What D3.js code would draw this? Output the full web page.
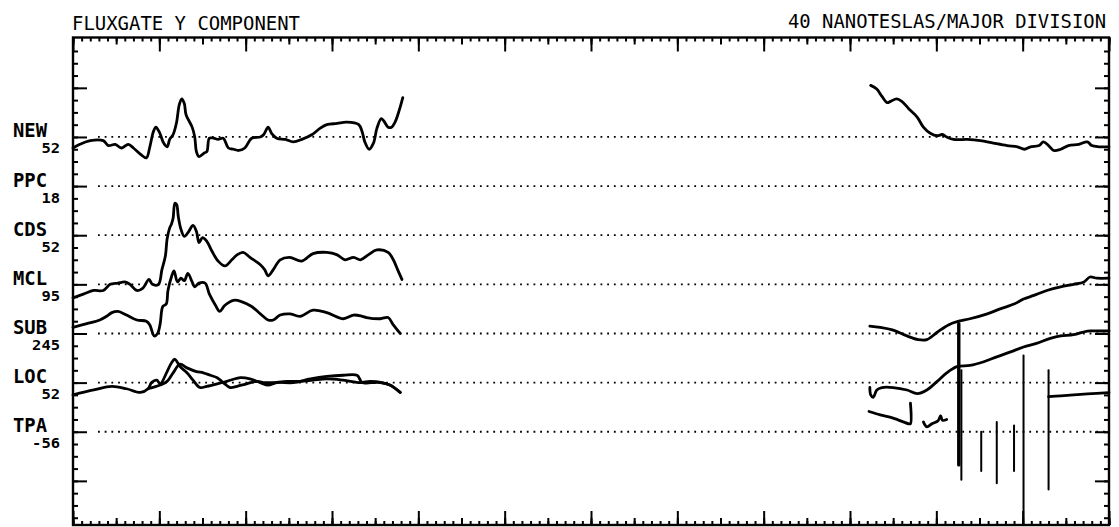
<!DOCTYPE html>
<html><head><meta charset="utf-8">
<script src="https://cdn.jsdelivr.net/npm/d3@7"></script>
<style>body{margin:0;background:#fff}svg{display:block}</style>
</head><body>
<svg id="c" width="1119" height="527"></svg>
<script>
// ---------------- data ----------------
const titleLeft = "FLUXGATE Y COMPONENT";
const titleRight = "40 NANOTESLAS/MAJOR DIVISION";
const stations = ["NEW", "PPC", "CDS", "MCL", "SUB", "LOC", "TPA"];
const stationBase = ["52", "18", "52", "95", "245", "52", "-56"];
// baseline level of each station trace (nT on the plot scale, 40 nT per division)
const stationLevel = [320, 280, 240, 200, 160, 120, 80];

// traces: [hour, nT deviation from station baseline]
const newLeft = [[0.00,-9],[0.08,-6],[0.20,-3],[0.35,-3],[0.41,-7],[0.49,-6],[0.56,-9],[0.64,-6],[0.70,-9],[0.78,-14],[0.85,-17],[0.89,-8],[0.93,4],[0.96,8],[1.00,4],[1.05,-5],[1.09,-8],[1.12,-2],[1.16,2],[1.20,12],[1.23,26],[1.26,31],[1.29,27],[1.31,18],[1.38,8],[1.41,0],[1.43,-12],[1.46,-16],[1.52,-13],[1.55,-12],[1.58,-1],[1.63,-1],[1.68,-2],[1.74,-1],[1.80,-9],[1.86,-10],[1.92,-11],[1.99,-9],[2.07,-1],[2.17,0],[2.21,2],[2.26,8],[2.30,3],[2.36,-1],[2.46,-2],[2.55,-4],[2.65,-2],[2.77,2],[2.86,7],[2.94,10],[3.06,11],[3.17,12],[3.31,10],[3.35,4],[3.38,-4],[3.43,-10],[3.48,-5],[3.52,7],[3.57,15],[3.60,13],[3.65,8],[3.69,8],[3.73,12],[3.78,22],[3.82,32]];
const newRight = [[9.24,42],[9.31,39],[9.37,33],[9.43,28],[9.47,29],[9.54,31],[9.60,29],[9.68,23],[9.78,16],[9.85,8],[9.93,3],[10.01,1],[10.07,2],[10.12,0],[10.20,-2],[10.36,-2],[10.51,-3],[10.66,-5],[10.82,-7],[10.94,-8],[11.02,-10],[11.09,-8],[11.19,-7],[11.24,-4],[11.30,-7],[11.36,-11],[11.44,-10],[11.53,-7],[11.65,-6],[11.75,-4],[11.80,-7],[11.88,-8],[12.00,-8]];
const mclLeft = [[0.00,-11],[0.12,-8],[0.24,-5],[0.35,-5],[0.43,0],[0.52,1],[0.60,2],[0.66,0],[0.74,-5],[0.81,-3],[0.88,4],[0.92,0],[0.99,0],[1.03,12],[1.07,23],[1.09,37],[1.12,46],[1.14,49],[1.16,54],[1.18,66],[1.20,65],[1.22,55],[1.25,45],[1.29,39],[1.34,43],[1.39,48],[1.43,43],[1.46,34],[1.50,38],[1.55,35],[1.61,27],[1.68,19],[1.76,15],[1.84,20],[1.90,24],[1.97,26],[2.05,22],[2.17,16],[2.22,12],[2.26,7],[2.32,12],[2.40,20],[2.51,22],[2.65,19],[2.78,25],[2.94,26],[3.06,24],[3.15,20],[3.25,22],[3.33,20],[3.42,24],[3.52,28],[3.65,26],[3.71,20],[3.76,12],[3.81,4]];
const subLeft = [[0.00,5],[0.16,8],[0.31,11],[0.39,14],[0.45,17],[0.52,18],[0.62,15],[0.74,11],[0.85,10],[0.89,7],[0.94,-2],[0.98,0],[1.01,8],[1.04,22],[1.08,24],[1.10,35],[1.14,46],[1.17,51],[1.21,42],[1.25,45],[1.29,43],[1.33,49],[1.38,42],[1.41,38],[1.46,41],[1.53,41],[1.58,32],[1.65,23],[1.70,18],[1.76,23],[1.86,27],[1.95,26],[2.07,22],[2.17,16],[2.26,11],[2.32,11],[2.40,15],[2.51,16],[2.63,14],[2.78,19],[2.94,17],[3.13,12],[3.25,15],[3.35,14],[3.40,13],[3.56,12],[3.65,13],[3.71,7],[3.79,0]];
const subRight = [[9.23,6],[9.35,5],[9.49,3],[9.66,-2],[9.79,-5],[9.89,-5],[10.01,1],[10.14,7],[10.26,10],[10.39,12],[10.59,16],[10.74,20],[10.90,24],[11.01,28],[11.13,31],[11.28,35],[11.44,38],[11.59,40],[11.71,42],[11.78,46],[11.86,45],[12.00,45]];
const locLeftA = [[0.00,-10],[0.24,-6],[0.45,-3],[0.62,-5],[0.78,-8],[0.87,-5],[0.91,0],[0.97,2],[1.01,-1],[1.09,9],[1.14,16],[1.18,19],[1.24,13],[1.32,8],[1.39,2],[1.47,-4],[1.55,-3],[1.67,-1],[1.78,1],[1.94,4],[2.05,3],[2.17,0],[2.26,-2],[2.36,0],[2.55,0],[2.75,3],[2.94,5],[3.13,6],[3.29,6],[3.35,0],[3.46,0],[3.56,0],[3.67,-2],[3.79,-8]];
const locLeftB = [[0.87,-5],[1.01,-2],[1.09,1],[1.16,8],[1.24,15],[1.32,12],[1.43,9],[1.51,8],[1.59,6],[1.67,4],[1.74,0],[1.82,-4],[1.90,-3],[2.01,-1],[2.13,1],[2.22,0],[2.30,0],[2.48,1],[2.63,1],[2.78,2],[2.94,3],[3.13,2],[3.33,0],[3.44,1],[3.58,0],[3.67,-2],[3.79,-8]];
const locRight = [[9.23,-4],[9.24,-10],[9.27,-12],[9.31,-6],[9.37,-4],[9.50,-4],[9.66,-6],[9.78,-9],[9.89,-6],[10.01,1],[10.12,8],[10.24,13],[10.39,14],[10.55,17],[10.70,21],[10.86,25],[11.01,29],[11.16,32],[11.32,36],[11.44,38],[11.59,39],[11.75,42],[11.86,42],[12.00,42]];
const tpaRight1 = [[9.22,16.5],[9.35,13.8],[9.50,11.1],[9.68,6.5],[9.70,6.5],[9.70,23.3]];
const tpaRight2 = [[9.85,8],[9.89,4],[9.95,6.5],[10.02,9],[10.05,13],[10.07,9.3],[10.12,10]];
const tpaRight3 = [[11.30,28.6],[11.44,29.2],[11.59,30],[11.75,30.8],[12.00,31.9]];
// spikes: [hour, top nT, bottom nT] relative to TPA baseline
const spikes = [[10.26,88,-27],[10.29,50,-39],[10.52,0,-32],[10.70,8,-42],[10.90,5,-32],[11.01,62,-76],[11.30,50,-47]];

// ---------------- layout ----------------
const L = 73, R = 1109, T = 37.5, B = 525;
const svg = d3.select("#c");
const x = d3.scaleLinear().domain([0, 12]).range([L, R]);
const y = d3.scaleLinear().domain([400, 0]).range([38.7, 530]);
const font = "'DejaVu Sans Mono', 'Liberation Mono', monospace";

svg.append("rect").attr("width", 1119).attr("height", 527).attr("fill", "#fff");

// titles
svg.append("text").attr("x", 72).attr("y", 30).text(titleLeft)
  .attr("font-family", font).attr("font-size", 19).attr("textLength", 228)
  .attr("lengthAdjust", "spacingAndGlyphs").attr("fill", "#000");
svg.append("text").attr("x", 788).attr("y", 28).text(titleRight)
  .attr("font-family", font).attr("font-size", 19).attr("textLength", 318)
  .attr("lengthAdjust", "spacingAndGlyphs").attr("fill", "#000");

// axes ticks
function styleAxis(g) {
  g.select(".domain").remove();
  g.selectAll("line").attr("stroke", "#000").attr("stroke-width", 2);
  g.selectAll("text").remove();
}
const hMinor = d3.range(0, 120.5, 1).map(d => d / 10);
const hMed = d3.range(0, 24.5, 1).map(d => d / 2);
const hMaj = d3.range(0, 12.5, 1);
[[hMinor, 4], [hMed, 7], [hMaj, 14]].forEach(([vals, size]) => {
  svg.append("g").attr("transform", `translate(0,${T})`)
    .call(d3.axisBottom(x).tickValues(vals).tickSize(size)).call(styleAxis);
  svg.append("g").attr("transform", `translate(0,${B})`)
    .call(d3.axisTop(x).tickValues(vals).tickSize(size)).call(styleAxis);
});
const vMinor = d3.range(10, 400, 10);
const vMaj = d3.range(40, 400, 40);
[[vMinor, 5], [vMaj, 14]].forEach(([vals, size]) => {
  svg.append("g").attr("transform", `translate(${L},0)`)
    .call(d3.axisRight(y).tickValues(vals).tickSize(size)).call(styleAxis);
  svg.append("g").attr("transform", `translate(${R},0)`)
    .call(d3.axisLeft(y).tickValues(vals).tickSize(size)).call(styleAxis);
});

// frame
svg.append("rect").attr("x", L).attr("y", T).attr("width", R - L).attr("height", B - T)
  .attr("fill", "none").attr("stroke", "#000").attr("stroke-width", 2.4);

// dotted baselines
svg.append("g").selectAll("line").data(stationLevel).join("line")
  .attr("x1", 98).attr("x2", R - 2).attr("y1", d => y(d)).attr("y2", d => y(d))
  .attr("stroke", "#000").attr("stroke-width", 1.8).attr("stroke-dasharray", "1.8,4.9");

// station labels
const lab = svg.append("g").attr("font-family", font).attr("font-weight", "bold").attr("fill", "#000");
stations.forEach((s, i) => {
  const yy = y(stationLevel[i]);
  lab.append("text").attr("x", 13).attr("y", yy + 0.5).text(s)
    .attr("font-size", 20).attr("textLength", 34).attr("lengthAdjust", "spacingAndGlyphs");
  const sb = stationBase[i];
  lab.append("text").attr("x", 60).attr("y", yy + 16.5).text(sb)
    .attr("text-anchor", "end").attr("font-size", 13.5)
    .attr("textLength", sb.length * 9.3).attr("lengthAdjust", "spacingAndGlyphs");
});

// traces
const traces = [
  [newLeft, 0], [newRight, 0], [mclLeft, 3], [subLeft, 4], [subRight, 4],
  [locLeftA, 5], [locLeftB, 5], [locRight, 5], [tpaRight1, 6], [tpaRight2, 6], [tpaRight3, 6]
];
const tg = svg.append("g").attr("fill", "none").attr("stroke", "#000")
  .attr("stroke-width", 2.8).attr("stroke-linejoin", "round").attr("stroke-linecap", "round");
traces.forEach(([data, si]) => {
  const line = d3.line().curve(d3.curveCatmullRom.alpha(0.5)).x(d => x(d[0])).y(d => y(stationLevel[si] + d[1]));
  tg.append("path").attr("d", line(data));
});
// spikes
tg.selectAll("line.spike").data(spikes).join("line").attr("class", "spike")
  .attr("x1", d => x(d[0])).attr("x2", d => x(d[0]))
  .attr("y1", d => y(stationLevel[6] + d[1])).attr("y2", d => y(stationLevel[6] + d[2]))
  .attr("stroke-width", (d, i) => i === 0 ? 3.4 : 2);
</script>
</body></html>
